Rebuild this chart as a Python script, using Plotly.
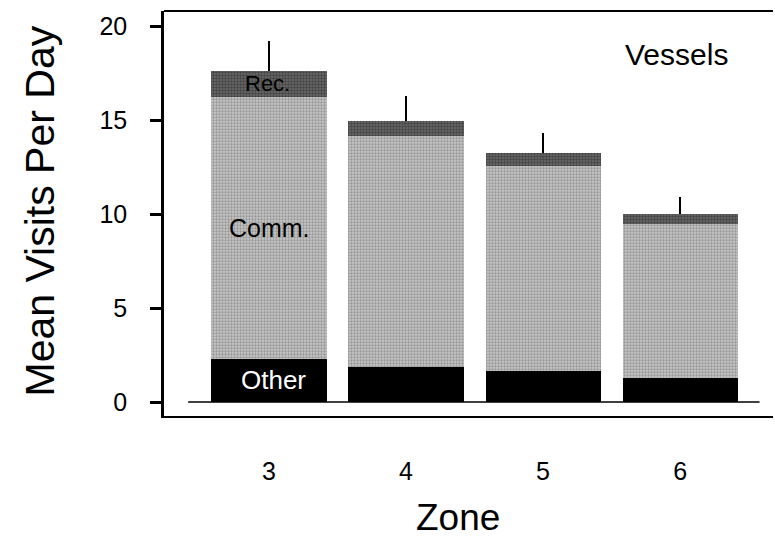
import plotly.graph_objects as go

zones = [3, 4, 5, 6]
zone_labels = ["3", "4", "5", "6"]
other = [2.30, 1.88, 1.63, 1.29]
comm = [13.92, 12.27, 10.92, 8.18]
rec = [1.40, 0.81, 0.68, 0.53]
rec_err = [1.60, 1.32, 1.09, 0.89]
y_ticks = [0, 5, 10, 15, 20]

FONT = "Liberation Sans, Arial, Helvetica, sans-serif"
BAR_W = 0.84

fig = go.Figure()
fig.add_trace(go.Bar(x=zones, y=other, width=BAR_W, name="Other",
                     marker=dict(color="#000000", line=dict(width=0))))
fig.add_trace(go.Bar(x=zones, y=comm, width=BAR_W, name="Comm.",
                     marker=dict(color="#b0b0b0", line=dict(width=0),
                                 pattern=dict(shape=".", fgcolor="#666666", bgcolor="#c6c6c6",
                                              size=3, solidity=0.45))))
fig.add_trace(go.Bar(x=zones, y=rec, width=BAR_W, name="Rec.",
                     marker=dict(color="#4e4e4e", line=dict(width=0),
                                 pattern=dict(shape=".", fgcolor="#1e1e1e", bgcolor="#6a6a6a",
                                              size=3, solidity=0.5)),
                     error_y=dict(type="data", symmetric=False, array=rec_err,
                                  arrayminus=[0] * len(rec_err), color="#000000",
                                  thickness=2, width=0)))

x0 = zones[0]
fig.add_annotation(x=x0, y=other[0] / 2, text="Other", showarrow=False,
                   font=dict(family=FONT, size=26, color="white"), xshift=4)
fig.add_annotation(x=x0, y=other[0] + comm[0] / 2, text="Comm.", showarrow=False,
                   font=dict(family=FONT, size=25, color="black"))
fig.add_annotation(x=x0, y=other[0] + comm[0] + rec[0] / 2, text="Rec.", showarrow=False,
                   font=dict(family=FONT, size=22, color="black"), xshift=-2)
fig.add_annotation(x=6, y=18.5, text="Vessels", showarrow=False,
                   font=dict(family=FONT, size=30, color="black"), xshift=-4)

fig.add_annotation(xref="paper", yref="paper", x=-0.203, y=0.506, text="Mean Visits Per Day",
                   textangle=-90, showarrow=False, xanchor="center", yanchor="middle",
                   font=dict(family=FONT, size=41, color="black"))
fig.add_annotation(xref="paper", yref="paper", x=0.483, y=-0.25, text="Zone",
                   showarrow=False, xanchor="center", yanchor="middle",
                   font=dict(family=FONT, size=37, color="black"))

fig.add_shape(type="line", x0=2.41, x1=6.58, y0=0, y1=0, xref="x", yref="y",
              line=dict(color="black", width=1.5))
fig.add_shape(type="line", x0=0, x1=1, y0=1, y1=1, xref="paper", yref="paper",
              line=dict(color="black", width=2))

fig.update_layout(
    width=775, height=546,
    margin=dict(l=164, r=2, t=11, b=130),
    barmode="stack", showlegend=False, bargap=0,
    plot_bgcolor="white", paper_bgcolor="white",
    font=dict(family=FONT, color="black"),
    xaxis=dict(range=[2.2336, 6.678], tickmode="array", tickvals=zones, ticktext=zone_labels,
               showgrid=False, zeroline=False, showline=True, mirror=False,
               linecolor="black", linewidth=2, ticks="", ticklabelstandoff=32,
               tickfont=dict(family=FONT, size=25, color="black")),
    yaxis=dict(range=[-0.745, 20.80], tickvals=y_ticks, showgrid=False, zeroline=False,
               showline=True, mirror=False, linecolor="black", linewidth=2.5, ticks="outside",
               ticklen=11, tickwidth=2.5, tickcolor="black", ticklabelstandoff=18,
               tickfont=dict(family=FONT, size=25, color="black")),
)

fig.write_html("out.html")
